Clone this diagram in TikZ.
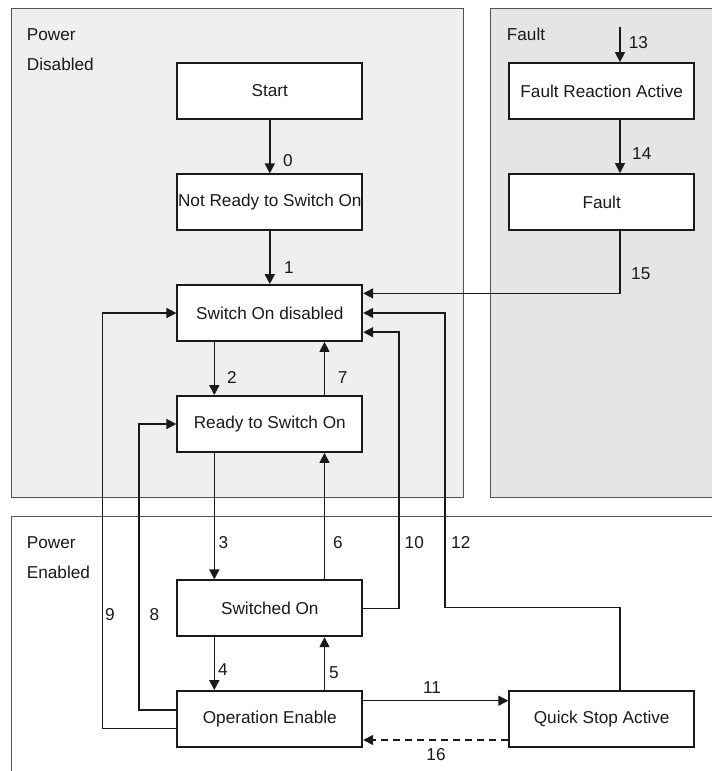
\documentclass[tikz,border=0pt]{standalone}
\usepackage{fontspec}
\setmainfont{Liberation Sans}
\usetikzlibrary{arrows.meta,calc}
\definecolor{pdfill}{HTML}{F0EFEE}
\definecolor{ffill}{HTML}{E5E5E5}
\definecolor{ink}{HTML}{1A1A1A}
\begin{document}
\begin{tikzpicture}[x=1pt,y=-1pt,
  txt/.style={font=\fontsize{17.2}{20}\selectfont, text=ink, inner sep=0pt},
  state/.style={draw=ink, line width=1.8pt, fill=white, minimum width=185pt, minimum height=56pt, inner sep=0pt, font=\fontsize{17.2}{20}\selectfont, text=ink},
  panel/.style={draw=ink!75, line width=1pt},
  arr/.style={draw=ink, line width=1.5pt, -{Triangle[length=10pt,width=10pt]}},
  lbl/.style={txt, anchor=base west},
  lblc/.style={txt, anchor=base}
]
\useasboundingbox (0,0) rectangle (712,771);
\clip (0,0) rectangle (712,771);
% panels
\path[panel, fill=pdfill] (11,8.5) rectangle (463.5,497.5);
\path[panel, fill=ffill] (490.7,8.5) rectangle (730,497.5);
\path[panel, fill=white] (11,516) rectangle (730,790);
\node[lbl] (tpd1) at (26.7,40) {Power};
\node[lbl] (tpd2) at (26.7,70) {Disabled};
\node[lbl] (tf) at (506.7,40.7) {Fault};
\node[lbl] (tpe1) at (26.7,548) {Power};
\node[lbl] (tpe2) at (26.7,578) {Enabled};
% states
\node[state] (start) at (269.8,91) {Start};
\node[state] (nr) at (269.8,202.3) {Not Ready to Switch On};
\node[state] (sod) at (269.8,313) {Switch On disabled};
\node[state] (rdy) at (269.8,424) {Ready to Switch On};
\node[state] (so) at (269.8,608.3) {Switched On};
\node[state] (oe) at (269.8,719) {Operation Enable};
\node[state] (fra) at (601.7,91) {Fault Reaction Active};
\node[state] (flt) at (601.7,202) {Fault};
\node[state] (qsa) at (601.7,719) {Quick Stop Active};
% helper coordinates
\coordinate (xa) at (214.3,0);
\coordinate (xb) at (324.5,0);
\coordinate (in13) at (620,27);
\coordinate (c12) at (445,607.7);
% connectors
\draw[arr] (start.south) -- (nr.north);
\draw[arr] (nr.south) -- (sod.north);
\draw[arr] (in13) -- (in13 |- fra.north);
\draw[arr] (fra.south -| in13) -- (flt.north -| in13);
\draw[arr] (flt.south -| in13) |- ([yshift=-9.3pt]sod.north east);
\draw[arr] (sod.south -| xa) -- (rdy.north -| xa);
\draw[arr] (rdy.north -| xb) -- (sod.south -| xb);
\draw[arr] (rdy.south -| xa) -- (so.north -| xa);
\draw[arr] (so.north -| xb) -- (rdy.south -| xb);
\draw[arr] (so.south -| xa) -- (oe.north -| xa);
\draw[arr] (oe.north -| xb) -- (so.south -| xb);
\draw[arr] (so.east) -- ++(36,0) |- ([yshift=9.7pt]sod.south east);
\draw[arr] (qsa.north -| in13) |- (c12) |- (sod.east);
\draw[arr] ([yshift=-9.3pt]oe.west) -- ++(-74,0) |- (sod.west);
\draw[arr] ([yshift=9pt]oe.west) -- ++(-37.3,0) |- (rdy.west);
\draw[arr] ([yshift=18.3pt]oe.east) -- ([yshift=18.3pt]qsa.west);
\draw[arr, dash pattern=on 7pt off 5pt] ([yshift=-21pt]qsa.west) -- ([yshift=-21pt]oe.east);
% labels
\node[lbl] (l0) at (283,166) {0};
\node[lbl] (l1) at (284,273) {1};
\node[lbl] (l13) at (628.6,48) {13};
\node[lbl] (l14) at (632,159) {14};
\node[lbl] (l15) at (631,279) {15};
\node[lbl] (l2) at (227,383) {2};
\node[lbl] (l7) at (337.7,383) {7};
\node[lbl] (l3) at (218.3,548) {3};
\node[lbl] (l6) at (333,548) {6};
\node[lbl] (l10) at (404.5,548) {10};
\node[lbl] (l12) at (451,548) {12};
\node[lbl] (l9) at (105,620) {9};
\node[lbl] (l8) at (149.3,620) {8};
\node[lbl] (l4) at (218,675) {4};
\node[lbl] (l5) at (329,678) {5};
\node[lblc] (l11) at (432,693) {11};
\node[lblc] (l16) at (436,760) {16};
\end{tikzpicture}
\end{document}
